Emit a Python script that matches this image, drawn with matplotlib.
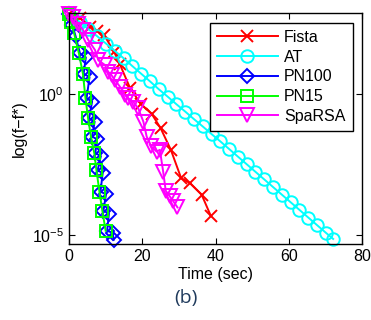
import matplotlib
matplotlib.use('Agg')
import matplotlib.pyplot as plt
from matplotlib.ticker import NullLocator, FixedLocator

plt.rcParams['font.family'] = ['Liberation Sans', 'DejaVu Sans']
plt.rcParams['mathtext.fontset'] = 'custom'
plt.rcParams['mathtext.rm'] = 'Liberation Sans'
plt.rcParams['mathtext.it'] = 'Liberation Sans:italic'
plt.rcParams['font.size'] = 11

# Data: time (sec) and log10(f - f*)
fista_t = [0.0, 3.1, 5.8, 7.6, 9.6, 12.3, 13.9, 16.7, 19.6, 22.6, 25.0, 27.8, 30.6, 33.0, 36.2, 38.7]
fista_log = [2.85, 2.69, 2.39, 2.25, 2.09, 1.5, 1.05, 0.2, -0.35, -0.71, -1.21, -1.98, -2.98, -3.16, -3.57, -4.32]

at_t = [0.0, 2.9, 5.3, 7.7, 10.1, 12.5, 14.9, 17.3, 19.7, 22.1, 24.5, 26.9, 29.3, 31.7, 34.1, 36.5,
        38.9, 41.3, 43.7, 46.1, 48.5, 50.9, 53.3, 55.7, 58.1, 60.5, 62.9, 65.3, 67.7, 70.1, 72.1]
at_log = [2.85, 2.56, 2.30, 2.05, 1.79, 1.53, 1.27, 0.99, 0.72, 0.45, 0.17, -0.09, -0.36, -0.62, -0.89, -1.15,
          -1.42, -1.68, -1.95, -2.22, -2.49, -2.76, -3.03, -3.30, -3.57, -3.84, -4.11, -4.38, -4.65, -4.92, -5.14]

pn100_t = [0.0, 0.9, 1.8, 3.0, 4.6, 4.0, 5.6, 4.8, 6.3, 5.5, 7.0, 6.3, 7.6, 7.2, 8.7, 7.8, 9.2,
           8.6, 10.1, 9.4, 10.9, 10.4, 11.9, 12.2]
pn100_log = [2.85, 2.45, 2.05, 1.44, 1.30, 0.72, 0.60, -0.15, -0.27, -0.86, -0.98, -1.51, -1.60, -2.10, -2.20,
             -2.71, -2.80, -3.46, -3.56, -4.14, -4.24, -4.85, -4.92, -5.17]

pn15_t = [0.0, 0.5, 1.4, 2.7, 3.8, 4.5, 5.2, 6.0, 6.9, 7.5, 8.3, 9.1, 10.0]
pn15_log = [2.85, 2.55, 2.15, 1.44, 0.72, -0.15, -0.86, -1.51, -2.10, -2.71, -3.46, -4.14, -4.85]

sparsa_t = [0.0, 1.2, 2.5, 3.9, 5.3, 7.1, 8.0, 9.8, 10.7, 11.6, 12.5, 13.9, 15.3, 16.2, 17.5, 18.9,
            20.3, 21.2, 22.5, 23.9, 24.8, 25.7, 26.4, 27.5, 28.5, 29.6]
sparsa_log = [2.85, 2.74, 2.50, 2.26, 1.91, 1.56, 1.20, 1.03, 0.79, 0.67, 0.50, 0.26, -0.04, -0.15, -0.27, -0.51,
              -0.98, -1.51, -1.86, -2.04, -1.98, -2.75, -3.43, -3.63, -3.81, -4.02]

series = [
    ('Fista', fista_t, fista_log, '#ff0000', 'x', 9),
    ('AT', at_t, at_log, '#00ffff', 'o', 9),
    ('PN100', pn100_t, pn100_log, '#0000ff', 'D', 7.5),
    ('PN15', pn15_t, pn15_log, '#00ff00', 's', 8),
    ('SpaRSA', sparsa_t, sparsa_log, '#ff00ff', 'v', 9.5),
]

fig = plt.figure(figsize=(3.71, 3.20), dpi=100)
ax = fig.add_axes([0.186, 0.2375, 0.79, 0.7215])

for name, t, lg, c, m, ms in series:
    ax.plot(t, [10 ** v for v in lg], color=c, marker=m, markersize=ms,
            markerfacecolor='none', markeredgecolor=c, markeredgewidth=1.4,
            linewidth=1.4, label=name, clip_on=False)

ax.set_yscale('log')
ax.set_xlim(0, 80)
ax.set_ylim(10 ** -5.32, 10 ** 2.87)
ax.xaxis.set_major_locator(FixedLocator([0, 20, 40, 60, 80]))
ax.yaxis.set_major_locator(FixedLocator([1, 1e-5]))
ax.yaxis.set_minor_locator(NullLocator())
ax.set_yticklabels(['$10^{0}$', '$10^{-5}$'])
ax.tick_params(direction='in', top=True, right=True, length=4, width=0.8, labelsize=11.5)
for sp in ax.spines.values():
    sp.set_linewidth(1.0)

ax.set_xlabel('Time (sec)', labelpad=2, fontsize=11.5)
ax.set_ylabel('log(f\u2212f*)', labelpad=4, fontsize=11.5)

leg = ax.legend(loc='upper right', frameon=True, fancybox=False, edgecolor='black',
                framealpha=1, handlelength=3.8, handletextpad=0.4, labelspacing=0.3,
                borderpad=0.45, borderaxespad=0.6, fontsize=11.5)
leg.get_frame().set_linewidth(1.0)

fig.text(0.5, 0.07, '(b)', ha='center', va='center', fontsize=14,
         family='Open Sans', color='#1f3a5c')

fig.savefig('out.png', dpi=100)
